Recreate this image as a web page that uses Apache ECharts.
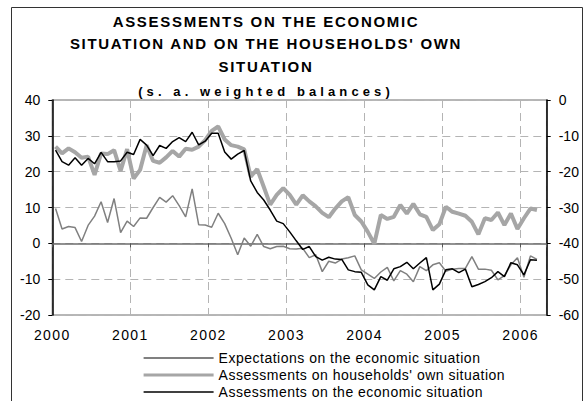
<!DOCTYPE html>
<html>
<head>
<meta charset="utf-8">
<script src="https://cdn.jsdelivr.net/npm/echarts@6/dist/echarts.min.js"></script>
<style>
html,body{margin:0;padding:0;background:#fff;}
#chart{width:588px;height:401px;}
</style>
</head>
<body>
<div id="chart"></div>
<script>
// ---- data (monthly, Jan 2000 - Mar 2006) ----
const yearLabels = ['2000','2001','2002','2003','2004','2005','2006'];
const seriesNames = [
  'Expectations on the economic situation',
  "Assessments on households' own situation",
  'Assessments on the economic situation'
];
const titleLines = [
  'ASSESSMENTS ON THE ECONOMIC',
  "SITUATION AND ON THE HOUSEHOLDS' OWN",
  'SITUATION'
];
const subtitle = '(s. a. weighted balances)';

// left axis
const expectations = [
  9.7, 4.0, 4.7, 4.4, 0.5, 5.0, 7.6, 11.6, 5.8, 12.5,
  3.0, 6.2, 4.7, 7.1, 7.0, 10.0, 12.8, 11.5, 13.3, 10.5,
  7.4, 15.2, 5.2, 5.1, 4.5, 8.4, 5.5, 1.4, -3.2, 1.5,
  -0.8, 2.5, -0.9, -1.5, -0.9, -0.8, -1.5, -1.6, -1.4, -4.0,
  -3.2, -7.9, -5.0, -5.5, -4.4, -4.0, -3.5, -7.4, -8.6, -9.8,
  -8.0, -6.7, -10.5, -7.6, -8.6, -10.7, -6.5, -7.6, -6.0, -5.4,
  -7.8, -7.2, -7.0, -7.0, -3.7, -7.2, -7.2, -7.5, -10.2, -9.0,
  -6.0, -4.0, -9.5, -3.5, -4.5
];
// right axis
const householdsOwn = [
  -13, -14.9, -13.5, -14.6, -16.1, -15.8, -20.9, -14.9, -15.1, -14,
  -19.8, -13.7, -21.9, -19.5, -12.6, -17, -17.5, -16, -14.2, -15.8,
  -13.6, -13.9, -13, -11.2, -8.6, -7.4, -11, -12.6, -13, -13.8,
  -21.4, -19.3, -24.2, -29.2, -26.5, -24.6, -26.5, -29.2, -26.6, -28.3,
  -29.7, -31.5, -32.7, -30.3, -28.3, -27.1, -32.1, -33.9, -36.8, -40.1,
  -32.1, -33.2, -32.6, -29.3, -31.7, -29, -31.9, -32.6, -36.3, -34.7,
  -29.8, -31.2, -31.7, -32.3, -34, -37.5, -33, -33.5, -31.4, -34.9,
  -31.7, -36, -33, -30.3, -30.7
];
// right axis
const economicAssess = [
  -14, -17.2, -18.2, -16.1, -18.2, -16.3, -17.8, -14.6, -17.2, -17.2,
  -17, -14.6, -15.2, -11, -12.6, -15.5, -12.7, -13.5, -11.6, -10.5,
  -11.6, -9, -12.5, -11.5, -9.3, -9.3, -14.5, -16.5, -15.1, -14.1,
  -22.6, -25.8, -27.9, -30.7, -33.8, -34.5, -36.8, -39.3, -41.7, -40.9,
  -43.7, -44.7, -43.9, -44.4, -44.5, -47.4, -47.9, -48.1, -51.6, -53,
  -49.3, -50.3, -47.1, -46.5, -45.3, -47.1, -45.5, -44, -53, -51.4,
  -47.4, -47.1, -48.2, -47.2, -52.1, -51.5, -50.7, -49.6, -47.9, -49.3,
  -45.4, -46, -48.8, -44.6, -44.7
];

// month index -> x value (middle of month)
const toPairs = arr => arr.map((v, i) => [i + 0.5, v]);

const FONT = '"Liberation Sans", Arial, sans-serif';
const gridLine = {show: true, lineStyle: {color: '#b4b4b4', width: 1, type: [8, 5]}};
const colors = ['#808080', '#a6a6a6', '#000000'];
const widths = [1.5, 4, 1.5];
const legendWidths = [2.2, 3.2, 1.6];

const chart = echarts.init(document.getElementById('chart'), null, {renderer: 'svg'});

const option = {
  animation: false,
  backgroundColor: '#fff',
  grid: {left: 52.3, right: 41.3, top: 100, bottom: 86, show: true,
         borderColor: '#a0a0a0', borderWidth: 1.5, backgroundColor: 'transparent'},
  xAxis: [
    {
      type: 'value', min: 0, max: 76, interval: 12,
      axisLine: {show: false, onZero: false},
      axisTick: {show: false},
      axisLabel: {
        formatter: v => (v % 12 === 0 ? yearLabels[v / 12] : ''),
        showMaxLabel: false, margin: 13,
        fontSize: 14, fontFamily: FONT, color: '#000'
      },
      splitLine: gridLine
    },
    {
      type: 'value', min: 0, max: 76, interval: 12, position: 'bottom',
      axisLine: {show: true, onZero: true, onZeroAxisIndex: 0,
                 lineStyle: {color: '#6e6e6e', width: 1.5}},
      axisTick: {show: true, inside: false, length: 4, lineStyle: {color: '#555', width: 1}},
      axisLabel: {show: false},
      splitLine: {show: false}
    }
  ],
  yAxis: [
    {
      type: 'value', min: -20, max: 40, interval: 10, position: 'left',
      axisLine: {show: true, onZero: false, lineStyle: {color: '#000', width: 1.5}},
      axisTick: {show: true, length: 4, lineStyle: {color: '#000', width: 1}},
      axisLabel: {margin: 12, fontSize: 14, fontFamily: FONT, color: '#000'},
      splitLine: gridLine
    },
    {
      type: 'value', min: -60, max: 0, interval: 10, position: 'right',
      axisLine: {show: true, onZero: false, lineStyle: {color: '#000', width: 1.5}},
      axisTick: {show: true, length: 4, lineStyle: {color: '#000', width: 1}},
      axisLabel: {margin: 12, fontSize: 14, fontFamily: FONT, color: '#000'},
      splitLine: {show: false}
    }
  ],
  legend: {
    data: seriesNames.map((n, k) => ({
      name: n,
      itemStyle: {opacity: 0},
      lineStyle: {color: colors[k], width: legendWidths[k], opacity: 1}
    })),
    orient: 'vertical', left: 142, top: 351, padding: 0,
    itemWidth: 70, itemHeight: 14, itemGap: 3,
    selectedMode: false,
    itemStyle: {opacity: 0},
    textStyle: {fontSize: 14, fontFamily: FONT, color: '#000', lineHeight: 14}
  },
  series: [
    {
      name: seriesNames[1], type: 'line', yAxisIndex: 1, xAxisIndex: 0,
      data: toPairs(householdsOwn), symbol: 'none', z: 2,
      lineStyle: {color: colors[1], width: widths[1]}, itemStyle: {color: colors[1]}
    },
    {
      name: seriesNames[0], type: 'line', yAxisIndex: 0, xAxisIndex: 0,
      data: toPairs(expectations), symbol: 'none', z: 3,
      lineStyle: {color: colors[0], width: widths[0]}, itemStyle: {color: colors[0]}
    },
    {
      name: seriesNames[2], type: 'line', yAxisIndex: 1, xAxisIndex: 0,
      data: toPairs(economicAssess), symbol: 'none', z: 4,
      lineStyle: {color: colors[2], width: widths[2]}, itemStyle: {color: colors[2]}
    }
  ],
  graphic: [
    {type: 'rect', silent: true, z: -10,
     shape: {x: 11.5, y: 7.5, width: 571, height: 400},
     style: {fill: 'none', stroke: '#333', lineWidth: 1}},
    ...titleLines.map((t, k) => ({
      type: 'text', silent: true, x: 266, y: [21.7, 43.7, 66.3][k],
      style: {text: t, font: 'bold 15px ' + FONT, fill: '#000',
              textAlign: 'center', align: 'center',
              textVerticalAlign: 'middle', verticalAlign: 'middle'}
    })),
    {type: 'text', silent: true, x: 266, y: 91.5,
     style: {text: subtitle, font: 'bold 13px ' + FONT, fill: '#000',
             textAlign: 'center', align: 'center',
             textVerticalAlign: 'middle', verticalAlign: 'middle'}}
  ]
};

chart.setOption(option);

// the reference uses widely tracked lettering
const spacing = {};
titleLines.forEach(t => { spacing[t] = 1.7; });
spacing[subtitle] = 4.1;
yearLabels.forEach(y => { spacing[y] = 1.4; });
seriesNames.forEach(n => { spacing[n] = 0.5; });
function applySpacing() {
  document.querySelectorAll('#chart svg text').forEach(el => {
    const sp = spacing[el.textContent];
    if (sp) el.style.letterSpacing = sp + 'px';
  });
}
applySpacing();
chart.on('finished', applySpacing);
</script>
</body>
</html>
